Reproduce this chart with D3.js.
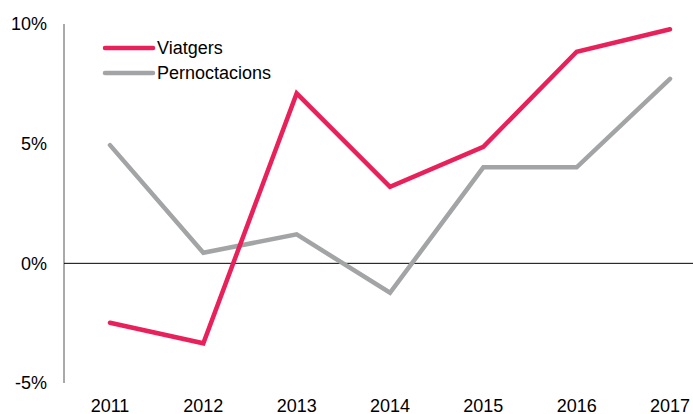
<!DOCTYPE html>
<html><head><meta charset="utf-8">
<script src="https://cdn.jsdelivr.net/npm/d3@7"></script>
<style>body{margin:0;background:#fff}svg{display:block;font-family:"Liberation Sans",Arial,sans-serif}</style>
</head><body>
<svg id="c" width="693" height="414"></svg>
<script>
const years = ["2011","2012","2013","2014","2015","2016","2017"];
const viatgers = [-2.48, -3.34, 7.10, 3.20, 4.87, 8.84, 9.78];
const pernoctacions = [4.94, 0.44, 1.21, -1.23, 4.01, 4.01, 7.71];
const yTicks = [-5, 0, 5, 10];
const seriesNames = ["Viatgers", "Pernoctacions"];
const colors = ["#E8215A", "#A2A4A5"];

const svg = d3.select("#c");
const x = d3.scalePoint().domain(years).range([110, 670]);
const y = d3.scaleLinear().domain([-5, 10]).range([383, 24]);

// y axis line
svg.append("line").attr("x1", 64).attr("x2", 64).attr("y1", y(10)).attr("y2", y(-5))
  .attr("stroke", "#555").attr("stroke-width", 1);
// zero line
svg.append("line").attr("x1", 64).attr("x2", 693).attr("y1", y(0)).attr("y2", y(0))
  .attr("stroke", "#000").attr("stroke-width", 1);

svg.selectAll(".yt").data(yTicks).enter().append("text")
  .attr("x", 47).attr("y", d => y(d)).attr("dy", "0.35em")
  .attr("text-anchor", "end").attr("font-size", 18).attr("fill", "#000")
  .text(d => d + "%");

svg.selectAll(".xt").data(years).enter().append("text")
  .attr("x", d => x(d)).attr("y", 412)
  .attr("text-anchor", "middle").attr("font-size", 18).attr("fill", "#000")
  .text(d => d);

const line = d3.line().x((d, i) => x(years[i])).y(d => y(d));
[pernoctacions, viatgers].forEach((s, k) => {
  const ci = k === 0 ? 1 : 0;
  svg.append("path").attr("d", line(s)).attr("fill", "none")
    .attr("stroke", colors[ci]).attr("stroke-width", 4.5)
    .attr("stroke-linejoin", "miter").attr("stroke-linecap", "round");
});

seriesNames.forEach((n, i) => {
  const ly = 48 + i * 25;
  svg.append("line").attr("x1", 105).attr("x2", 153).attr("y1", ly).attr("y2", ly)
    .attr("stroke", colors[i]).attr("stroke-width", 4.5).attr("stroke-linecap", "round");
  svg.append("text").attr("x", 157).attr("y", ly).attr("dy", "0.35em")
    .attr("font-size", 18).attr("fill", "#000").text(n);
});
</script>
</body></html>
